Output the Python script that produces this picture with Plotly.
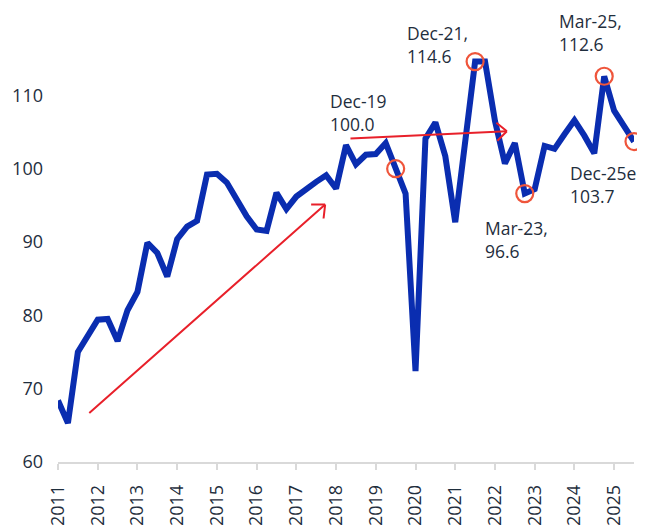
import math
import plotly.graph_objects as go

# quarterly series, Jun-11 .. Dec-25
months = ["Mar", "Jun", "Sep", "Dec"]
quarters = [f"{m}-{str(y)[2:]}" for y in range(2011, 2026) for m in months][1:]
years = [str(y) for y in range(2011, 2026)]

values = [68.4, 65.3, 75.0, 77.2, 79.4, 79.5, 76.5, 80.7, 83.2, 89.9,
          88.5, 85.3, 90.4, 92.1, 92.9, 99.2, 99.3, 98.1, 95.8, 93.5,
          91.7, 91.5, 96.7, 94.5, 96.2, 97.3, 98.2, 99.1, 97.3, 103.2,
          100.6, 101.9, 102.0, 103.5, 100.0, 96.6, 72.4, 104.1, 106.3, 101.7,
          92.7, 103.6, 114.6, 114.6, 106.5, 100.7, 103.5, 96.6, 97.2, 103.1,
          102.7, 104.7, 106.6, 104.5, 102.1, 112.6, 107.9, 105.8, 103.7]

callout_points = ["Dec-19", "Dec-21", "Mar-23", "Mar-25", "Dec-25"]
callout_labels = ["Dec-19<br>100.0", "Dec-21,<br>114.6", "Mar-23,<br>96.6",
                  "Mar-25,<br>112.6", "Dec-25e<br>103.7"]
# label offsets from the circled point, in pixels
callout_shift = [(-68, 82), (-70, 43), (-42, -20), (-47, 69), (-66, -17)]

# trend arrows: (start index, start value) -> (end index, end value)
arrows = [((3.0, 66.5), (26.9, 95.1)),
          ((29.3, 104.1), (45.2, 105.1))]

# the page body has an 8px margin, so the figure is 8px smaller than the window
W, H = 637, 519
M = dict(l=50, r=11, t=14, b=65)
X_RANGE = [0, len(quarters) - 1]
Y_RANGE = [60, 120]
px_x = (W - M["l"] - M["r"]) / (X_RANGE[1] - X_RANGE[0])
px_y = (H - M["t"] - M["b"]) / (Y_RANGE[1] - Y_RANGE[0])

TXT = "#1f2e3d"
RED = "#e8202a"
BLUE = "#0a2db0"
FONT = "Open Sans"

fig = go.Figure()
fig.add_trace(go.Scatter(x=quarters, y=values, mode="lines",
                         line=dict(color=BLUE, width=6), hoverinfo="x+y"))

idx = [quarters.index(q) for q in callout_points]
fig.add_trace(go.Scatter(
    x=[quarters[i] for i in idx], y=[values[i] for i in idx], mode="markers",
    marker=dict(symbol="circle-open", size=17, line=dict(color=RED, width=2.2)),
    cliponaxis=False, hoverinfo="skip"))

ann = []
for i, label, (dx, dy) in zip(idx, callout_labels, callout_shift):
    ann.append(dict(x=i, y=values[i], text=label, showarrow=False,
                    xanchor="left", yanchor="top", align="left",
                    xshift=dx, yshift=dy, font=dict(size=17.5, color=TXT)))

for (x0, y0), (x1, y1) in arrows:
    ann.append(dict(x=x1, y=y1, ax=x0, ay=y0, axref="x", ayref="y",
                    xref="x", yref="y", text="", showarrow=True,
                    arrowhead=0, arrowwidth=2, arrowcolor=RED, standoff=0))
    dxp = (x1 - x0) * px_x
    dyp = -(y1 - y0) * px_y
    n = math.hypot(dxp, dyp)
    bx, by = -dxp / n, -dyp / n
    for a in (42, -42):
        r = math.radians(a)
        rx = bx * math.cos(r) - by * math.sin(r)
        ry = bx * math.sin(r) + by * math.cos(r)
        ann.append(dict(x=x1, y=y1, ax=15.5 * rx, ay=15.5 * ry,
                        xref="x", yref="y", text="", showarrow=True,
                        arrowhead=0, arrowwidth=2, arrowcolor=RED, standoff=0))

fig.update_layout(
    width=W, height=H, margin=M,
    paper_bgcolor="white", plot_bgcolor="white",
    font=dict(family=FONT, size=18, color=TXT),
    showlegend=False,
    annotations=ann,
    xaxis=dict(type="category", range=X_RANGE, tickvals=quarters[::4],
               ticktext=years, tickangle=-90, ticks="outside", ticklen=6,
               tickwidth=1.5, tickcolor="#d9d9d9", showline=True,
               linecolor="#d9d9d9", linewidth=1.5, showgrid=False,
               automargin=False, ticklabelstandoff=8,
               tickfont=dict(size=18, color=TXT)),
    yaxis=dict(range=Y_RANGE, tickvals=list(range(60, 111, 10)),
               showgrid=False, zeroline=False, showline=False, ticks="",
               automargin=False, ticklabelstandoff=14,
               tickfont=dict(size=18, color=TXT)),
)

fig.write_html("out.html")
